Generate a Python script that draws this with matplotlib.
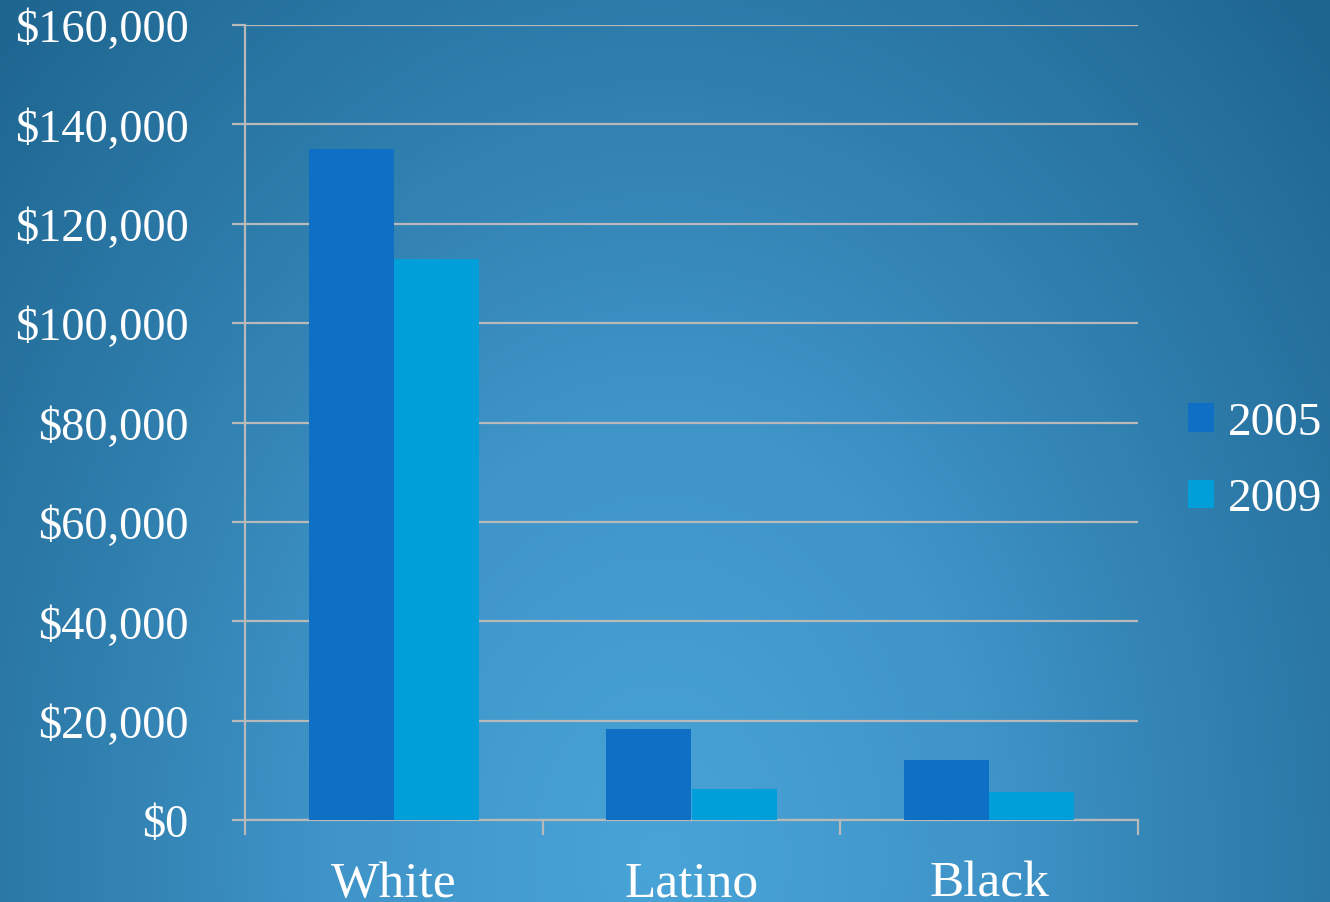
import numpy as np
import matplotlib
matplotlib.use("Agg")
import matplotlib.pyplot as plt
from matplotlib.colors import to_rgb

# data
groups = ["White", "Latino", "Black"]
years = ["2005", "2009"]
wealth_2005 = [135000, 18300, 12100]
wealth_2009 = [113000, 6200, 5600]
ytick_vals = [0, 20000, 40000, 60000, 80000, 100000, 120000, 140000, 160000]

bar_colors = ["#0E6FC5", "#009FDA"]
grid_color = "#B9B9B9"
serif = ["Liberation Serif", "DejaVu Serif"]

W, H = 1330, 903
fig = plt.figure(figsize=(W / 100, H / 100), dpi=100)

# radial background, lighter near bottom middle
bg = fig.add_axes([0, 0, 1, 1])
yy, xx = np.mgrid[0:H, 0:W]
d = np.sqrt(((xx - 660) / 1100.0) ** 2 + ((yy - 860) / 1480.0) ** 2)
stops = [0.0, 0.3, 0.55, 0.82, 1.2]
cols = [to_rgb(c) for c in ["#49A4D7", "#3F94C8", "#2E7DAC", "#1F6691", "#1A5C86"]]
img = np.dstack([np.interp(d, stops, [c[i] for c in cols]) for i in range(3)])
bg.imshow(img, aspect="auto", extent=[0, 1, 0, 1], origin="upper")
bg.set_axis_off()

ax = fig.add_axes([245 / W, 1 - 821 / H, (1138 - 245) / W, (821 - 26) / H])
ax.patch.set_alpha(0)

x = np.arange(len(groups))
w = 0.286
ax.bar(x - w / 2, wealth_2005, w, color=bar_colors[0], label=years[0], zorder=3)
ax.bar(x + w / 2, wealth_2009, w, color=bar_colors[1], label=years[1], zorder=3)

ax.set_xlim(-0.5, len(groups) - 0.5)
ax.set_ylim(0, 160000)
ax.set_yticks(ytick_vals)
ax.set_yticklabels(["${:,}".format(v) for v in ytick_vals])
ax.yaxis.grid(True, color=grid_color, linewidth=1.6, zorder=0)

# labels sit under the bars, boundary ticks between groups
ax.set_xticks(x)
ax.set_xticklabels(groups)
ax.set_xticks(np.arange(-0.5, len(groups)), minor=True)
ax.tick_params(axis="x", which="major", length=0, pad=29)
ax.tick_params(axis="x", which="minor", length=11, width=1.6, color=grid_color, direction="out")
ax.tick_params(axis="y", length=9.5, width=1.6, color=grid_color, pad=31)

for lab in ax.get_xticklabels():
    lab.set_family(serif)
    lab.set_fontsize(37)
    lab.set_color("white")
for lab in ax.get_yticklabels():
    lab.set_family(serif)
    lab.set_fontsize(33.5)
    lab.set_color("white")

for s in ["top", "right"]:
    ax.spines[s].set_visible(False)
for s in ["left", "bottom"]:
    ax.spines[s].set_color(grid_color)
    ax.spines[s].set_linewidth(1.6)

leg = fig.legend(loc="center left", bbox_to_anchor=(1188 / W, 1 - 462 / H),
                 frameon=False, prop={"family": serif, "size": 34},
                 handlelength=0.55, handleheight=0.55, handletextpad=0.3,
                 labelspacing=0.72, borderpad=0, borderaxespad=0)
for t in leg.get_texts():
    t.set_color("white")

fig.savefig("out.png", dpi=100)
